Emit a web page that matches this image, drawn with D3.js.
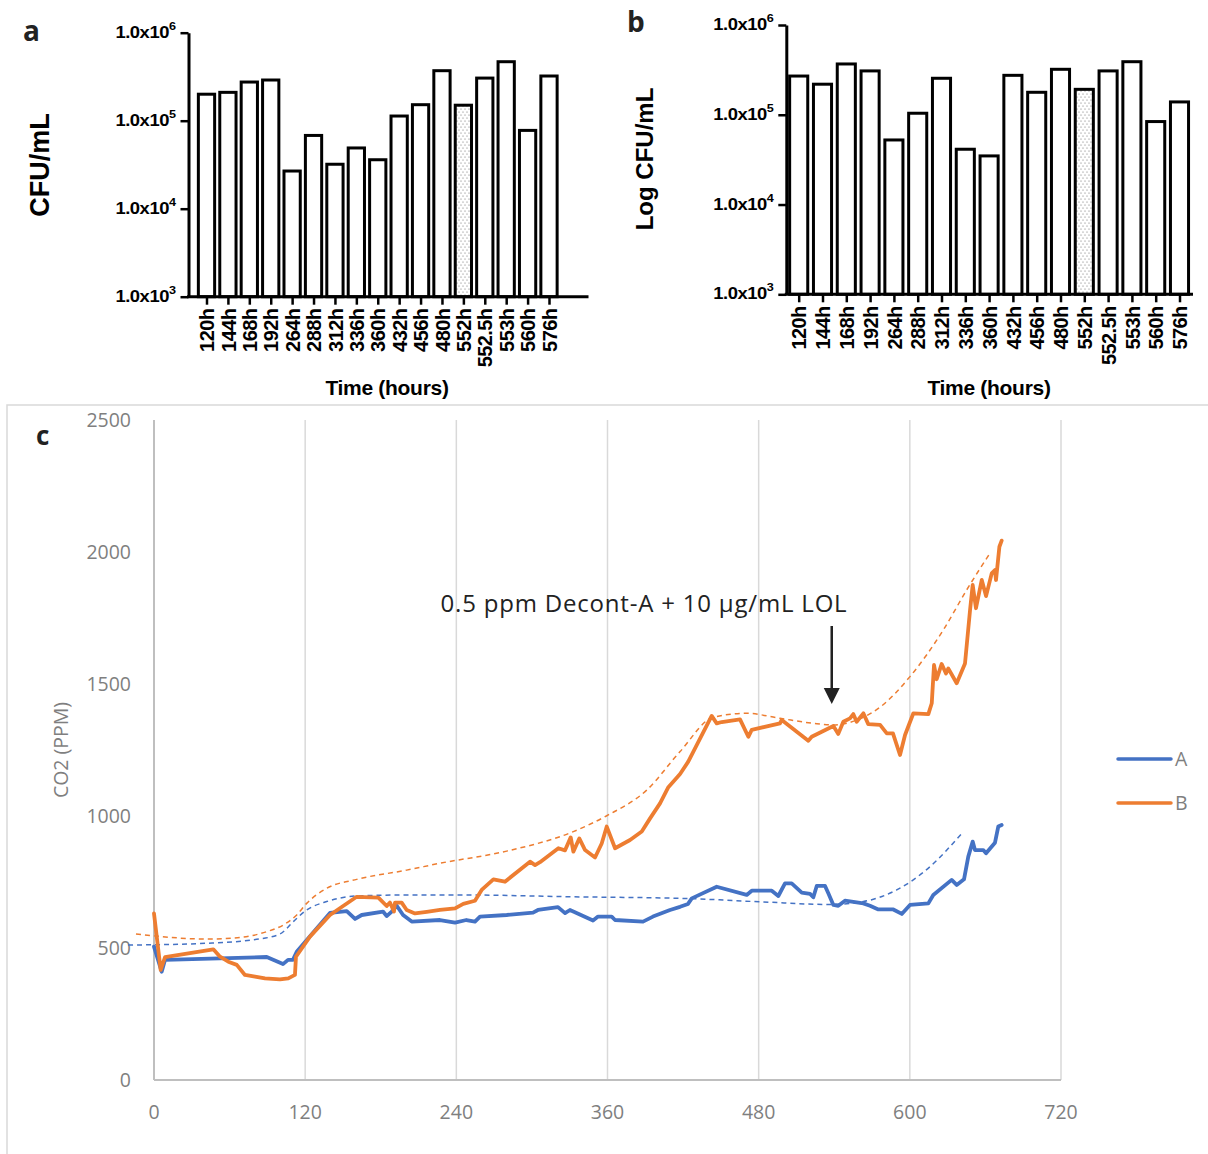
<!DOCTYPE html>
<html><head><meta charset="utf-8">
<script src="https://cdn.jsdelivr.net/npm/d3@7"></script>
<style>body{margin:0;background:#fff} svg{display:block}</style>
</head><body>
<svg id="fig" width="1208" height="1154"></svg>
<script>
// ---- bar panels (a, b): viable counts per sampling time ----
const timeLabels = ["120h","144h","168h","192h","264h","288h","312h","336h","360h","432h","456h","480h","552h","552.5h","553h","560h","576h"];
const cfuPanelA = [2.0e5,2.1e5,2.75e5,2.9e5,2.68e4,6.8e4,3.2e4,4.9e4,3.6e4,1.13e5,1.52e5,3.7e5,1.5e5,3.05e5,4.68e5,7.76e4,3.22e5];
const cfuPanelB = [2.7e5,2.19e5,3.68e5,3.08e5,5.24e4,1.04e5,2.55e5,4.13e4,3.48e4,2.75e5,1.78e5,3.21e5,1.92e5,3.08e5,3.9e5,8.4e4,1.39e5];
const stippledLabel = "552h";
const logTicks = [1e3,1e4,1e5,1e6];

// ---- panel c: CO2 traces (hours, ppm) ----
const seriesA_t = [0,6.1,8.7,89.5,102.4,106.4,110.3,113.3,139.7,153,159.6,164.9,181.8,184.7,188.7,192.7,197.7,204.6,227,239,248,254.8,258.8,280,300.9,304.8,320.7,326.3,330.2,348.5,352.5,363.3,366,388.2,396.1,409.6,417.6,423.9,426.9,446.7,470.5,474.5,490.4,495.6,500.9,506.2,514.2,520.8,523.4,526.1,532.7,535.3,539.3,543.2,548.5,563.1,568.4,575,586.9,593.6,600.1,614.7,618.6,633.2,637.2,643,646.4,649.9,651.7,658.3,660.5,667.6,670.2,672.9];
const seriesA_v = [505,410,455,466,439,455,455,486,633,640,610,625,638,621,638,660,625,600,606,596,606,600,619,625,634,644,655,632,644,604,619,619,606,600,619,644,656,667,688,732,701,717,717,697,745,745,710,705,692,735,735,707,663,660,679,669,660,646,646,629,663,669,701,758,739,760,846,903,871,871,859,899,960,966];
const seriesB_t = [0,5.3,8.7,47.1,52.4,59,65.7,72.2,80.2,88.1,100,106.6,111.9,112.7,123.8,139.7,160.9,178.1,184.7,187.3,190.5,191.3,196.6,200.6,207.2,216.5,227,239,245.5,254.8,260.1,269.4,278.6,298.5,302.5,306.4,321,326.3,330.8,332.9,337.6,342.2,350.1,355.4,359.4,366,377.9,387.2,393.8,401.7,408.3,417.6,424.1,442.7,446.7,450.7,465.2,471.8,474.5,496.9,498.3,519.4,522.1,539.3,543.2,547.2,552.5,555.1,557.8,563.1,567,576.4,581.7,586.6,592.2,596.2,602.8,614.7,617.4,619.2,621.3,625.3,628.7,630.5,637.2,643.8,647.8,649.9,652.5,657.1,660.5,665,667.6,668.4,671.1,672.9];
const seriesB_v = [631,417,465,495,467,448,436,398,392,385,381,385,398,467,543,625,694,691,659,672,638,672,672,644,631,637,644,650,667,679,720,760,751,827,814,825,878,870,919,865,915,871,843,896,960,878,909,941,991,1048,1109,1159,1206,1379,1351,1356,1366,1300,1326,1351,1364,1285,1300,1341,1311,1357,1370,1386,1357,1389,1348,1345,1313,1313,1231,1307,1389,1386,1427,1572,1518,1576,1540,1559,1503,1578,1780,1875,1787,1894,1833,1919,1932,1894,2020,2043];
// fitted trend curves (dashed)
const trendA_t = [-20.6,41.8,81.5,100,110.6,121.2,137.1,160.9,200.6,242.9,332.9,425.5,481.1,536.6,563.1,589.6,616,641.2];
const trendA_v = [511,518,533,553,600,644,676,697,701,701,694,687,675,665,676,720,808,934];
const trendB_t = [-14.3,41.8,68.3,89.5,102.6,113.3,121.2,137.1,160.9,200.6,227,280,332.9,359.4,391.1,417.6,444,470.5,496.9,523.4,539.3,563.1,576.3,600.1,626.6,645.1,664.2];
const trendB_v = [553,534,540,562,587,625,669,726,760,795,821,867,941,1001,1098,1244,1374,1389,1370,1351,1345,1374,1412,1528,1705,1856,2000];
const co2Ticks = [0,500,1000,1500,2000,2500];
const hourTicks = [0,120,240,360,480,600,720];
const annotationText = "0.5 ppm Decont-A + 10 μg/mL LOL";
const annotationHour = 538;

const svg = d3.select("#fig");
const defs = svg.append("defs");
const pat = defs.append("pattern").attr("id","stipple").attr("patternUnits","userSpaceOnUse")
  .attr("width",4).attr("height",6);
pat.append("rect").attr("width",4).attr("height",6).attr("fill","#fff");
pat.append("circle").attr("cx",1).attr("cy",1).attr("r",0.55).attr("fill","#666");
pat.append("circle").attr("cx",3).attr("cy",4).attr("r",0.55).attr("fill","#666");

const boldFont = "'Liberation Sans', Arial, sans-serif";

function barPanel(cfg) {
  const g = svg.append("g");
  const y = d3.scaleLog().domain([1e3,1e6]).range([cfg.yBottom, cfg.yTop]);
  const x = d3.scalePoint().domain(timeLabels).range([cfg.xFirst, cfg.xLast]);
  const bw = x.step() * 0.76;

  // bars
  g.selectAll("rect.bar").data(cfg.values).join("rect")
    .attr("class","bar")
    .attr("x",(d,i)=>x(timeLabels[i]) - bw/2)
    .attr("y",d=>y(d))
    .attr("width",bw)
    .attr("height",d=>y(1e3)-y(d))
    .attr("fill",(d,i)=>timeLabels[i]===stippledLabel ? "url(#stipple)" : "#fff")
    .attr("stroke","#000").attr("stroke-width",3);

  // y axis
  const ya = g.append("g").attr("transform",`translate(${cfg.xAxis},0)`)
    .call(d3.axisLeft(y).tickValues(logTicks).tickSize(8).tickSizeOuter(0).tickFormat(""));
  ya.select(".domain").attr("stroke-width",3);
  ya.selectAll(".tick line").attr("stroke-width",2.5);
  const lab = g.selectAll("text.ylab").data(logTicks).join("text")
    .attr("class","ylab")
    .attr("transform",d=>`translate(${cfg.xAxis - 13},${y(d)+5}) scale(1.15,1)`)
    .attr("text-anchor","end")
    .style("font-family",boldFont).style("font-weight","bold").style("font-size","16px")
    .style("letter-spacing","-0.4px");
  lab.append("tspan").text("1.0x10");
  lab.append("tspan").attr("dy",-8).style("font-size","11px").text(d=>Math.round(Math.log10(d)));

  // x axis
  g.append("line").attr("x1",cfg.xAxis-1.5).attr("x2",cfg.xEnd)
    .attr("y1",y(1e3)).attr("y2",y(1e3)).attr("stroke","#000").attr("stroke-width",3);
  const xa = g.append("g").attr("transform",`translate(0,${y(1e3)})`)
    .call(d3.axisBottom(x).tickSize(8).tickSizeOuter(0));
  xa.select(".domain").remove();
  xa.selectAll(".tick line").attr("stroke-width",2.5);
  xa.selectAll(".tick text")
    .attr("transform","rotate(-90)").attr("x",-12).attr("y",0).attr("dy","0.36em")
    .attr("text-anchor","end").attr("fill","#000")
    .style("font-family",boldFont).style("font-weight","bold").style("font-size","20px")
    .style("letter-spacing","-0.6px");

  g.append("text").attr("x",cfg.titleX).attr("y",395)
    .attr("text-anchor","middle")
    .style("font-family",boldFont).style("font-weight","bold").style("font-size","21px")
    .style("letter-spacing","-0.3px")
    .text("Time (hours)");
  g.append("text").attr("transform",`translate(${cfg.yLabX},${cfg.yLabY}) rotate(-90)`)
    .attr("text-anchor","middle")
    .style("font-family",boldFont).style("font-weight","bold").style("font-size",cfg.yLabSize)
    .text(cfg.yLabel);
  g.append("text").attr("x",cfg.tagX).attr("y",cfg.tagY)
    .style("font-family","'Open Sans', sans-serif").style("font-weight","bold").style("font-size","28px")
    .attr("fill","#222").text(cfg.tag);
}

barPanel({values:cfuPanelA, yTop:32.7, yBottom:296.7, xFirst:206.5, xLast:549, xAxis:188.5, xEnd:588.5,
  titleX:387, yLabel:"CFU/mL", yLabX:49, yLabY:165, yLabSize:"27px", tag:"a", tagX:23, tagY:41});
barPanel({values:cfuPanelB, yTop:25, yBottom:294.3, xFirst:798.7, xLast:1179.5, xAxis:786.3, xEnd:1193,
  titleX:989, yLabel:"Log CFU/mL", yLabX:653, yLabY:159, yLabSize:"24px", tag:"b", tagX:627, tagY:32});

// ---- panel c ----
const gc = svg.append("g");
gc.append("rect").attr("x",7).attr("y",405).attr("width",1240).attr("height",800)
  .attr("fill","none").attr("stroke","#d9d9d9").attr("stroke-width",1.5);
gc.append("text").attr("x",36).attr("y",445)
  .style("font-family","'Open Sans', sans-serif").style("font-weight","bold").style("font-size","26px")
  .attr("fill","#222").text("c");

const xc = d3.scaleLinear().domain([0,720]).range([154,1061]);
const yc = d3.scaleLinear().domain([0,2500]).range([1080,420]);
const grayText = "#7f7f7f";
const cFont = "'Open Sans', sans-serif";

gc.selectAll("line.grid").data(hourTicks.slice(1)).join("line")
  .attr("class","grid")
  .attr("x1",d=>xc(d)).attr("x2",d=>xc(d)).attr("y1",yc(2500)).attr("y2",yc(0))
  .attr("stroke","#d9d9d9").attr("stroke-width",1.5);
gc.append("line").attr("x1",xc(0)).attr("x2",xc(0)).attr("y1",yc(2500)).attr("y2",yc(0))
  .attr("stroke","#bfbfbf").attr("stroke-width",2);
gc.append("line").attr("x1",xc(0)).attr("x2",xc(720)).attr("y1",yc(0)).attr("y2",yc(0))
  .attr("stroke","#bfbfbf").attr("stroke-width",2);

gc.selectAll("text.yt").data(co2Ticks).join("text").attr("class","yt")
  .attr("x",131).attr("y",d=>yc(d)+7).attr("text-anchor","end")
  .style("font-family",cFont).style("font-size","19.5px").attr("fill",grayText).text(d=>d);
gc.selectAll("text.xt").data(hourTicks).join("text").attr("class","xt")
  .attr("x",d=>xc(d)).attr("y",1119).attr("text-anchor","middle")
  .style("font-family",cFont).style("font-size","19.5px").attr("fill",grayText).text(d=>d);
gc.append("text").attr("transform","translate(68,750) rotate(-90)").attr("text-anchor","middle")
  .style("font-family",cFont).style("font-size","19.5px").attr("fill",grayText).text("CO2 (PPM)");

const line = d3.line().x(d=>xc(d[0])).y(d=>yc(d[1]));
const smooth = d3.line().x(d=>xc(d[0])).y(d=>yc(d[1])).curve(d3.curveMonotoneX);
const zip = (t,v)=>t.map((d,i)=>[d,v[i]]);
const blue = "#4472c4", orange = "#ed7d31";

gc.append("path").attr("d",smooth(zip(trendB_t,trendB_v))).attr("fill","none")
  .attr("stroke",orange).attr("stroke-width",1.5).attr("stroke-dasharray","5,4");
gc.append("path").attr("d",smooth(zip(trendA_t,trendA_v))).attr("fill","none")
  .attr("stroke",blue).attr("stroke-width",1.5).attr("stroke-dasharray","5,4");
gc.append("path").attr("d",line(zip(seriesA_t,seriesA_v))).attr("fill","none")
  .attr("stroke",blue).attr("stroke-width",3.8).attr("stroke-linejoin","round").attr("stroke-linecap","round");
gc.append("path").attr("d",line(zip(seriesB_t,seriesB_v))).attr("fill","none")
  .attr("stroke",orange).attr("stroke-width",3.8).attr("stroke-linejoin","round").attr("stroke-linecap","round");

// annotation arrow
const ax = xc(annotationHour);
gc.append("text").attr("x",644).attr("y",612).attr("text-anchor","middle")
  .style("font-family",cFont).style("font-size","24px").style("letter-spacing","0.8px")
  .attr("fill","#222").text(annotationText);
gc.append("line").attr("x1",ax).attr("x2",ax).attr("y1",626).attr("y2",690)
  .attr("stroke","#222").attr("stroke-width",2.5);
gc.append("path").attr("d",`M${ax-8},${688}L${ax+8},${688}L${ax},${704}Z`).attr("fill","#222");

// legend
const legend = [["A",blue,759],["B",orange,803]];
legend.forEach(([name,col,ly])=>{
  gc.append("line").attr("x1",1118).attr("x2",1171).attr("y1",ly).attr("y2",ly)
    .attr("stroke",col).attr("stroke-width",3.5).attr("stroke-linecap","round");
  gc.append("text").attr("x",1175).attr("y",ly+7)
    .style("font-family",cFont).style("font-size","19.5px").attr("fill",grayText).text(name);
});
</script>
</body></html>
